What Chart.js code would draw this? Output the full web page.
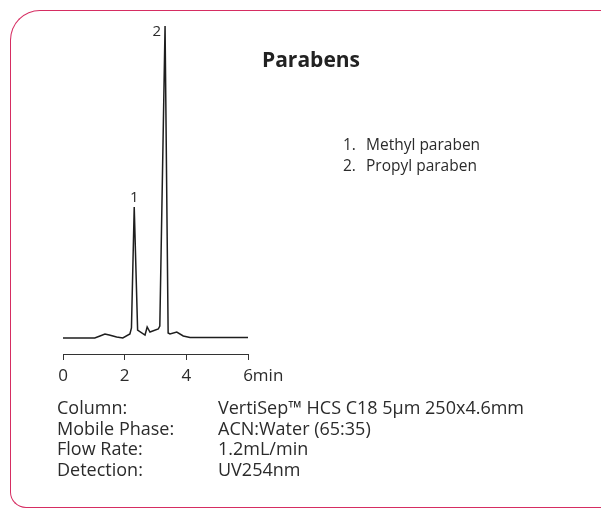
<!DOCTYPE html>
<html>
<head>
<meta charset="utf-8">
<script src="https://cdn.jsdelivr.net/npm/chart.js@4.4.0/dist/chart.umd.min.js"></script>
<style>
  html, body { margin: 0; padding: 0; background: #fff; }
  body { width: 601px; height: 510px; position: relative; overflow: hidden; font-family: "Open Sans", sans-serif; color: #2b2b2b; }
  .frame { position: absolute; left: 10px; top: 10px; width: 600px; height: 498px; border: 1.5px solid #d62d62; border-right: none; border-radius: 30px 0 0 16px; box-sizing: border-box; }
  .frame::after { content: ""; position: absolute; right: -12px; top: -1.5px; width: 20px; height: 10px; border-top: 1.5px solid #d62d62; border-right: 1.5px solid #d62d62; border-radius: 0 12px 0 0; }
  #wrap { position: absolute; left: 0; top: 0; width: 601px; height: 510px; }
  .title { position: absolute; left: 262px; top: 45px; font-size: 21px; font-weight: 700; color: #222; }
  .legend { position: absolute; left: 343px; top: 134px; font-size: 15.5px; line-height: 21px; }
  .legend span { display: inline-block; width: 23px; }
  .cond { position: absolute; left: 57px; top: 397px; font-size: 18px; line-height: 20.5px; }
  .cond div span { display: inline-block; width: 161px; }
</style>
</head>
<body>
<div class="frame"></div>
<div id="wrap"><canvas id="chrom"></canvas></div>
<div class="title">Parabens</div>
<div class="legend">
  <div><span>1.</span>Methyl paraben</div>
  <div><span>2.</span>Propyl paraben</div>
</div>
<div class="cond">
  <div><span>Column:</span>VertiSep™ HCS C18 5µm 250x4.6mm</div>
  <div><span>Mobile Phase:</span>ACN:Water (65:35)</div>
  <div><span>Flow Rate:</span>1.2mL/min</div>
  <div><span>Detection:</span>UV254nm</div>
</div>
<script>
// retention time (min) and detector signal (arbitrary units)
const times  = [0, 1.03, 1.2, 1.36, 1.5, 1.74, 1.94, 2.17, 2.22, 2.31, 2.42, 2.66, 2.73, 2.82, 3.09, 3.14, 3.31, 3.41, 3.47, 3.69, 3.9, 4.12, 6.0];
const signal = [0, 0, 2, 4, 3, 1, 0, 4, 10, 131, 8, 3, 11, 6, 9, 12, 312, 5, 4, 6, 2, 0.5, 0.5];
const xTicks = [0, 2, 4, 6];
const peakLabels = [{ t: 2.31, v: 131, text: '1' }, { t: 3.31, v: 312, text: '2' }];

const tickSize = 17;
const tickPad = 6;
const labelFont = tickSize + 'px "Open Sans", sans-serif';

// peak numbers and the "min" unit after the last tick
const annotate = {
  id: 'annotate',
  afterDraw(chart) {
    const { ctx, scales: { x, y } } = chart;
    ctx.save();
    ctx.fillStyle = '#2b2b2b';
    ctx.font = '15px "Open Sans", sans-serif';
    peakLabels.forEach(p => {
      const px = x.getPixelForValue(p.t);
      const py = y.getPixelForValue(p.v);
      if (p.text === '1') {
        ctx.textAlign = 'center';
        ctx.textBaseline = 'bottom';
        ctx.fillText(p.text, px, py - 2);
      } else {
        ctx.textAlign = 'right';
        ctx.textBaseline = 'top';
        ctx.fillText(p.text, px - 4, py - 2);
      }
    });
    ctx.font = labelFont;
    const last = xTicks[xTicks.length - 1];
    const lx = x.getPixelForValue(last) + ctx.measureText(String(last)).width / 2;
    ctx.textAlign = 'left';
    ctx.textBaseline = 'middle';
    ctx.fillText('min', lx, x.top + 6 + tickPad + tickSize * 1.2 / 2);
    ctx.restore();
  }
};

const ctx = document.getElementById('chrom').getContext('2d');
new Chart(ctx, {
  type: 'line',
  data: {
    datasets: [{
      data: times.map((t, i) => ({ x: t, y: signal[i] })),
      borderColor: '#1e1e1e',
      borderWidth: 1.5,
      pointRadius: 0,
      tension: 0,
      clip: false
    }]
  },
  options: {
    responsive: true,
    maintainAspectRatio: false,
    animation: false,
    layout: { padding: { left: 63, right: 353, top: 26, bottom: 116 } },
    plugins: { legend: { display: false }, tooltip: { enabled: false } },
    scales: {
      x: {
        type: 'linear',
        min: 0,
        max: 6,
        afterBuildTicks: s => { s.ticks = xTicks.map(v => ({ value: v })); },
        afterFit: s => { s.height = 40; },
        grid: { drawOnChartArea: false, drawTicks: true, tickLength: 6, color: '#333', lineWidth: 1 },
        border: { display: true, color: '#333', width: 1 },
        ticks: { color: '#2b2b2b', font: { family: '"Open Sans", sans-serif', size: tickSize }, padding: tickPad, maxRotation: 0 }
      },
      y: {
        display: false,
        min: -16,
        max: 312
      }
    }
  },
  plugins: [annotate]
});
</script>
</body>
</html>
